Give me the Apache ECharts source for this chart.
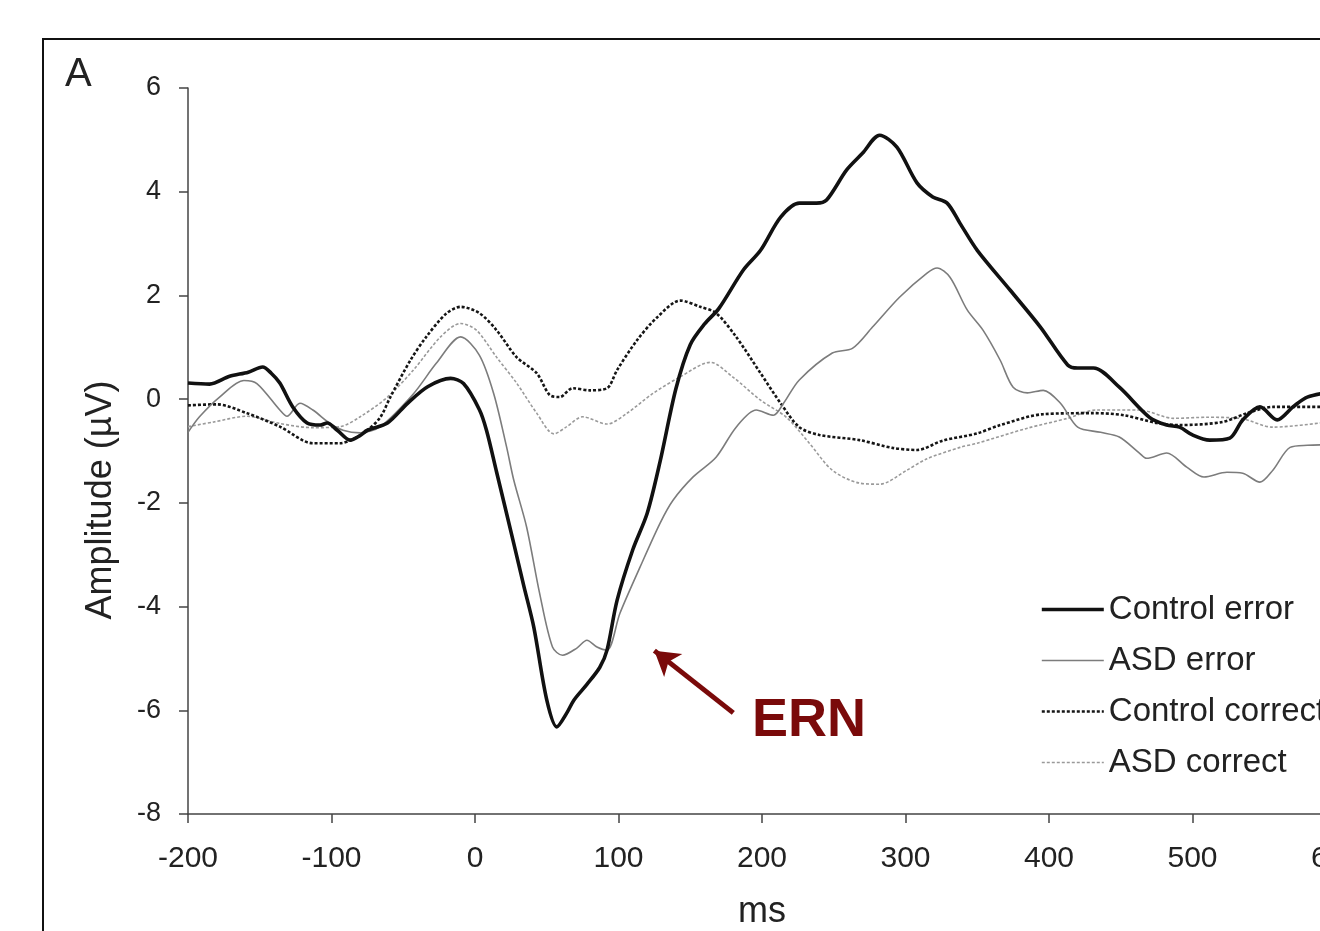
<!DOCTYPE html>
<html>
<head>
<meta charset="utf-8">
<title>ERN</title>
<script src="https://cdn.jsdelivr.net/npm/echarts@6.0.0/dist/echarts.min.js"></script>
<style>
  html, body { margin: 0; padding: 0; background: #fff; }
  #chart { width: 1320px; height: 931px; }
</style>
</head>
<body>
<div id="chart"></div>
<script>
// x = ms, y = amplitude (µV)
var controlError = [
  [-200, 0.31], [-185, 0.29], [-171, 0.44], [-158, 0.52], [-148, 0.62], [-142, 0.5], [-136, 0.31],
  [-127, -0.15], [-117, -0.46], [-108, -0.5], [-103, -0.46], [-96, -0.6], [-87, -0.79], [-80, -0.7],
  [-75, -0.6], [-61, -0.46], [-47, -0.08], [-33, 0.24], [-17, 0.4], [-8, 0.3], [3, -0.2], [8, -0.6],
  [15, -1.4], [27, -2.78], [34, -3.6], [41, -4.4], [50, -5.8], [57, -6.32], [64, -6.05], [69, -5.8],
  [78, -5.5], [87, -5.17], [92, -4.84], [99, -3.88], [110, -2.9], [120, -2.2], [129, -1.2], [140, 0.2],
  [150, 1.05], [160, 1.45], [170, 1.75], [187, 2.49], [199, 2.87], [213, 3.51], [226, 3.78], [238, 3.78],
  [245, 3.84], [259, 4.42], [270, 4.74], [282, 5.09], [294, 4.86], [308, 4.17], [319, 3.9], [329, 3.78],
  [338, 3.39], [350, 2.87], [373, 2.1], [394, 1.39], [413, 0.66], [420, 0.6], [431, 0.6], [449, 0.23],
  [470, -0.35], [482, -0.5], [491, -0.54], [500, -0.69], [512, -0.79], [526, -0.75], [535, -0.4],
  [547, -0.15], [559, -0.4], [570, -0.15], [580, 0.04], [600, 0.15]
];
var asdError = [
  [-200, -0.64], [-192, -0.34], [-178, 0.04], [-161, 0.36], [-152, 0.3], [-136, -0.21], [-131, -0.33],
  [-122, -0.08], [-113, -0.21], [-101, -0.47], [-92, -0.6], [-80, -0.65], [-66, -0.53], [-43, 0.1],
  [-27, 0.69], [-10, 1.2], [3, 0.85], [13, 0.11], [22, -0.92], [27, -1.56], [36, -2.47], [45, -3.74],
  [54, -4.78], [61, -4.94], [71, -4.8], [78, -4.65], [85, -4.78], [92, -4.84], [101, -4.13], [115, -3.24],
  [129, -2.39], [138, -1.95], [152, -1.5], [168, -1.12], [182, -0.54], [196, -0.21], [208, -0.31],
  [215, -0.08], [226, 0.37], [249, 0.89], [263, 0.98], [277, 1.39], [296, 1.97], [315, 2.43], [322, 2.53],
  [331, 2.35], [343, 1.72], [354, 1.33], [366, 0.75], [375, 0.23], [385, 0.12], [396, 0.17], [408, -0.08],
  [420, -0.54], [436, -0.64], [449, -0.73], [463, -1.04], [468, -1.14], [482, -1.04], [496, -1.31],
  [508, -1.5], [524, -1.41], [535, -1.43], [547, -1.6], [556, -1.37], [568, -0.93], [580, -0.89], [600, -0.88]
];
var controlCorrect = [
  [-200, -0.12], [-180, -0.1], [-159, -0.27], [-136, -0.53], [-113, -0.85], [-94, -0.85], [-85, -0.77],
  [-75, -0.6], [-66, -0.35], [-59, 0.04], [-45, 0.75], [-34, 1.2], [-20, 1.65], [-10, 1.78], [3, 1.66],
  [15, 1.33], [29, 0.81], [43, 0.5], [52, 0.08], [59, 0.04], [68, 0.21], [80, 0.17], [92, 0.21], [99, 0.56],
  [113, 1.14], [127, 1.58], [143, 1.9], [157, 1.78], [168, 1.66], [182, 1.2], [199, 0.5], [213, -0.08],
  [226, -0.54], [240, -0.69], [268, -0.79], [291, -0.94], [308, -0.98], [326, -0.8], [350, -0.66],
  [366, -0.5], [396, -0.29], [431, -0.27], [452, -0.31], [475, -0.46], [491, -0.5], [521, -0.44],
  [538, -0.27], [556, -0.15], [600, -0.15]
];
var asdCorrect = [
  [-200, -0.53], [-182, -0.44], [-159, -0.33], [-136, -0.47], [-113, -0.55], [-94, -0.53], [-80, -0.34],
  [-61, 0.04], [-43, 0.56], [-24, 1.2], [-10, 1.46], [1, 1.33], [15, 0.81], [29, 0.31], [43, -0.27],
  [55, -0.67], [64, -0.53], [75, -0.34], [92, -0.48], [106, -0.27], [124, 0.11], [143, 0.43], [164, 0.71],
  [180, 0.42], [199, -0.02], [217, -0.35], [233, -0.85], [249, -1.37], [268, -1.62], [282, -1.64],
  [301, -1.37], [315, -1.15], [338, -0.93], [350, -0.85], [385, -0.56], [413, -0.37], [433, -0.21],
  [463, -0.21], [487, -0.37], [510, -0.35], [533, -0.37], [556, -0.54], [600, -0.42]
];
var seriesNames = ['Control error', 'ASD error', 'Control correct', 'ASD correct'];
// ERN arrow: tail -> head, in (ms, µV)
var ernArrow = [[180, -6.05], [125, -4.85]];

var font = 'Liberation Sans, Arial, sans-serif';
var myChart = echarts.init(document.getElementById('chart'));

// one style per series, in the order of seriesNames
var styles = [
  { color: '#111', width: 3.6, type: 'solid' },
  { color: '#7c7c7c', width: 1.6, type: 'solid' },
  { color: '#151515', width: 2.6, type: [3, 2] },
  { color: '#9a9a9a', width: 1.6, type: [3, 2] }
];
var datasets = [controlError, asdError, controlCorrect, asdCorrect];

var series = [];
for (var i = 3; i >= 0; i--) {
  series.push({
    name: seriesNames[i],
    type: 'line',
    data: datasets[i],
    symbol: 'none',
    legendIcon: 'none',
    smooth: 0.3,
    lineStyle: styles[i],
    itemStyle: { color: styles[i].color },
    silent: true
  });
}
series[3].markLine = {
  silent: true,
  symbol: ['none', 'arrow'],
  symbolSize: [22, 24],
  label: { show: false },
  lineStyle: { color: '#7a0a0a', width: 5, type: 'solid' },
  data: [[{ coord: ernArrow[0] }, { coord: ernArrow[1] }]]
};

var legendData = seriesNames.map(function (n, k) {
  return { name: n, lineStyle: { width: styles[k].width, color: styles[k].color, type: styles[k].type } };
});

option = {
  animation: false,
  backgroundColor: '#fff',
  grid: { left: 188, top: 88, right: -16, bottom: 117, containLabel: false, outerBoundsMode: 'none' },
  legend: {
    data: legendData,
    orient: 'vertical',
    left: 1035,
    top: 588,
    itemWidth: 62,
    itemHeight: 14,
    itemGap: 18,
    itemStyle: { opacity: 0 },
    textStyle: { fontFamily: font, fontSize: 33, color: '#222' }
  },
  xAxis: {
    type: 'value',
    min: -200,
    max: 600,
    interval: 100,
    name: 'ms',
    nameLocation: 'middle',
    nameGap: 80,
    nameTextStyle: { fontFamily: font, fontSize: 36, color: '#222' },
    axisLine: { onZero: false, lineStyle: { color: '#444', width: 1.5 } },
    axisTick: { show: true, length: 9, lineStyle: { color: '#444', width: 1.5 } },
    axisLabel: { margin: 30, fontFamily: font, fontSize: 30, color: '#222' },
    splitLine: { show: false }
  },
  yAxis: {
    type: 'value',
    min: -8,
    max: 6,
    interval: 2,
    axisLine: { show: true, onZero: false, lineStyle: { color: '#444', width: 1.5 } },
    axisTick: { show: true, length: 9, lineStyle: { color: '#444', width: 1.5 } },
    axisLabel: { margin: 27, fontFamily: font, fontSize: 27, color: '#222' },
    splitLine: { show: false }
  },
  graphic: [
    { type: 'rect', shape: { x: 43, y: 39, width: 1400, height: 1000 }, style: { fill: 'none', stroke: '#111', lineWidth: 2 }, silent: true },
    { type: 'text', x: 65, y: 55, style: { text: 'A', fontFamily: font, fontSize: 40, fill: '#222' }, silent: true },
    { type: 'text', x: 101, y: 500, rotation: Math.PI / 2, style: { text: 'Amplitude (µV)', fontFamily: font, fontSize: 36, fill: '#222', align: 'center', verticalAlign: 'middle' }, silent: true },
    { type: 'text', x: 752, y: 694, style: { text: 'ERN', fontFamily: font, fontSize: 54, fontWeight: 'bold', fill: '#7a0a0a' }, silent: true }
  ],
  series: series
};
myChart.setOption(option);
</script>
</body>
</html>
